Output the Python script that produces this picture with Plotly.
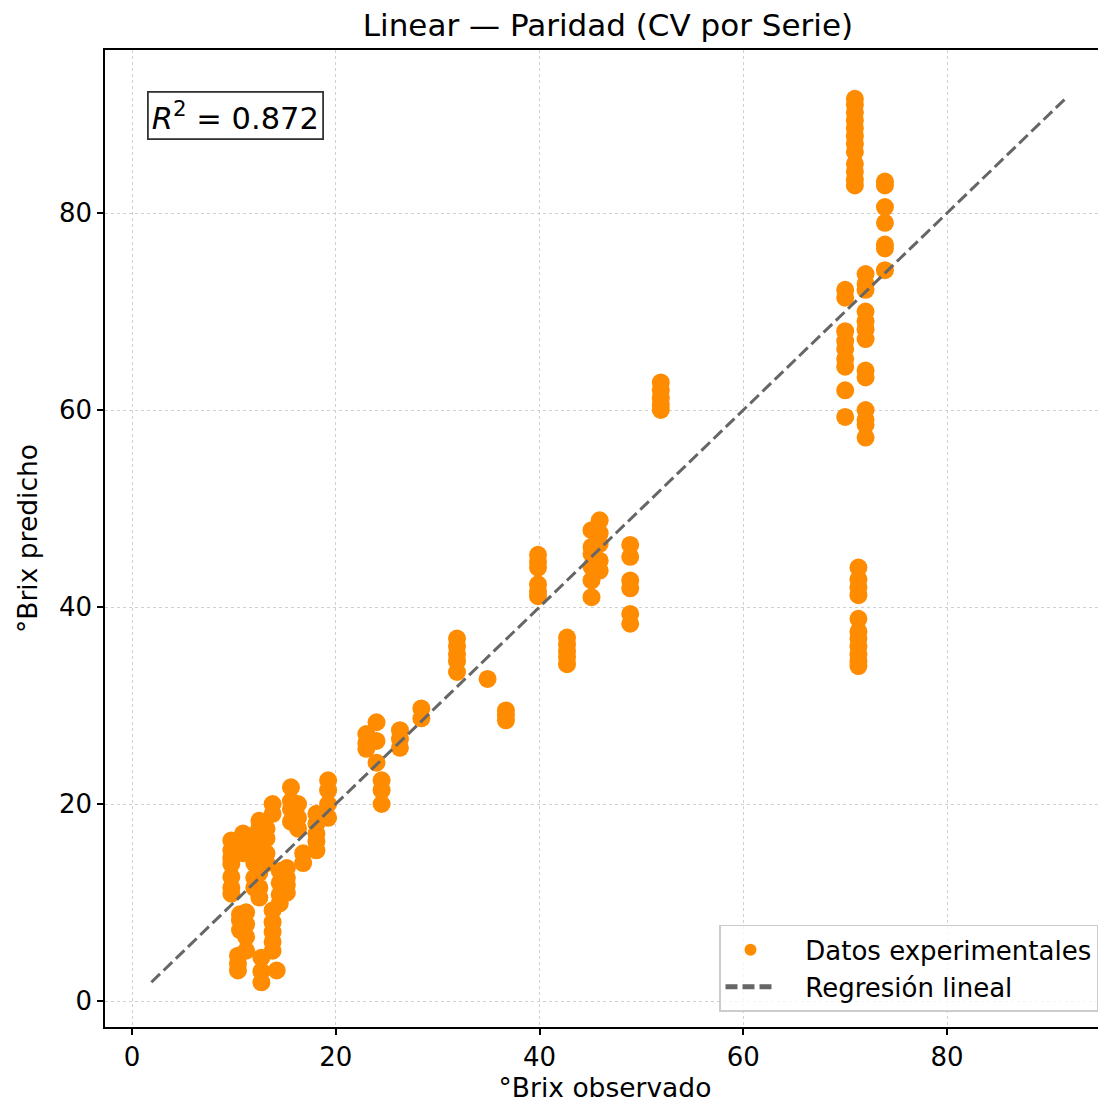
import plotly.graph_objects as go

# ---- data: observed °Brix (x) and predicted °Brix (stacked y values per observed level)
obs_levels = [70.95, 71.3, 73.9, 70.0, 72.0, 51.9, 48.9, 45.9, 45.1, 42.7, 39.85,
              36.7, 34.9, 31.9, 28.4, 26.3, 24.5, 24.0, 23.0, 19.25, 18.1, 16.8,
              16.3, 15.6, 15.2, 14.5, 14.2, 13.8, 13.2, 12.5, 12.7, 12.0, 11.2,
              10.9, 10.6, 10.4, 9.75]
pred_groups = [
    [91.6, 91.0, 90.2, 89.4, 88.6, 87.8, 87.0, 86.2, 85.0, 84.2, 83.4, 82.8],
    [44.0, 42.8, 42.0, 41.2, 38.8, 37.5, 36.8, 36.0, 35.2, 34.5, 34.0],
    [83.2, 82.8, 80.6, 79.0, 76.8, 76.4, 74.2],
    [72.2, 71.4, 68.0, 67.0, 66.2, 65.2, 64.4, 62.0, 59.3],
    [73.8, 72.8, 72.2, 70.0, 69.0, 68.2, 67.2, 64.0, 63.3, 60.0, 59.0, 58.5, 57.2],
    [62.8, 62.0, 61.2, 60.5, 60.0],
    [46.3, 45.1, 42.7, 41.9, 39.3, 38.3],
    [48.8, 47.5, 46.4, 44.7, 43.7],
    [47.8, 46.1, 45.4, 44.1, 42.7, 41.0],
    [36.9, 36.2, 35.5, 34.9, 34.2],
    [45.3, 44.6, 44.0, 42.3, 41.6, 41.1],
    [29.5, 29.0, 28.5],
    [32.7],
    [36.8, 36.0, 35.2, 34.5, 33.4],
    [29.7, 28.7],
    [27.5, 26.6, 25.7],
    [22.4, 21.4, 20.0],
    [28.3, 26.4, 24.2],
    [27.1, 26.2, 25.6],
    [22.4, 21.4, 20.0, 18.6],
    [19.0, 18.0, 17.0, 16.2, 15.3],
    [15.0, 14.0],
    [20.0, 18.6, 17.5],
    [21.7, 20.3, 19.5, 18.2],
    [13.5, 12.5, 11.8, 11.0],
    [13.2, 12.0, 10.8, 9.9],
    [3.1],
    [20.0, 19.0, 9.2, 8.0, 7.0, 6.0, 5.1],
    [17.5, 16.5, 15.0, 14.0],
    [18.3, 17.6, 16.0, 14.5, 13.0, 11.5, 10.5],
    [4.4, 3.0, 1.9],
    [16.6, 15.5, 14.0, 12.5, 11.5],
    [16.8, 9.0, 7.8, 6.5, 5.1],
    [17.0, 16.3, 15.0],
    [8.8, 8.2, 7.2],
    [4.6, 3.8, 3.1],
    [16.3, 15.3, 14.5, 13.9, 12.6, 11.5, 10.9],
]
series_names = ["Datos experimentales", "Regresión lineal"]
r2_value = 0.872
x_ticks = [0, 20, 40, 60, 80]
y_ticks = [0, 20, 40, 60, 80]

x_obs, y_pred = [], []
for xv, ys in zip(obs_levels, pred_groups):
    for yv in ys:
        x_obs.append(xv)
        y_pred.append(yv)

lo = min(min(x_obs), min(y_pred))
hi = max(max(x_obs), max(y_pred))

pad = "\u00a0\u00a0\u00a0"  # visual gap between legend symbol and label

fig = go.Figure()
fig.add_trace(go.Scatter(
    x=x_obs, y=y_pred, mode="markers", name=pad + series_names[0],
    marker=dict(size=18, color="#FF8C00", line=dict(width=0)),
))
fig.add_trace(go.Scatter(
    x=[lo, hi], y=[lo, hi], mode="lines", name=pad + series_names[1],
    line=dict(color="#666666", width=3, dash="12px,5px"),
))

font_family = "DejaVu Sans"
axis_common = dict(
    showline=True, linecolor="black", linewidth=1.5, mirror=True,
    ticks="outside", ticklen=6, tickwidth=1.5, tickcolor="black",
    showgrid=True, gridcolor="#d0d0d0", griddash="dot", gridwidth=1.3,
    zeroline=False, tickfont=dict(size=26, color="black", family=font_family),
    automargin=False,
)
fig.update_xaxes(range=[-2.65, 95.5], tickvals=x_ticks,
                 title=dict(text="°Brix observado", font=dict(size=26.5, color="black", family=font_family), standoff=11),
                 **axis_common)
fig.update_yaxes(range=[-2.64, 96.55], tickvals=y_ticks,
                 title=dict(text="°Brix predicho", font=dict(size=26.5, color="black", family=font_family), standoff=14),
                 **axis_common)

fig.add_annotation(
    xref="paper", yref="paper", x=0.042, y=0.9585, xanchor="left", yanchor="top",
    text=f"<i>R</i><sup>2</sup> = {r2_value:.3f}", showarrow=False,
    font=dict(size=30.5, color="black", family=font_family),
    bordercolor="#333333", borderwidth=1.8, borderpad=3, bgcolor="white",
)

# page has an 8px body margin; figure sized/margined so the plot area lands at 105..1105 x 50..1027
fig.update_layout(
    width=1098, height=1095,
    margin=dict(l=97, r=1, t=42, b=76),
    paper_bgcolor="white", plot_bgcolor="white",
    title=dict(text="Linear — Paridad (CV por Serie)", x=0.5464, xanchor="center",
               y=0.9845, yanchor="middle",
               font=dict(size=31, color="black", family=font_family)),
    legend=dict(x=0.993, y=0.0154, xanchor="right", yanchor="bottom",
                bgcolor="rgba(255,255,255,0.8)", bordercolor="#cccccc", borderwidth=1.5,
                font=dict(size=26, color="black", family=font_family),
                itemwidth=50, itemsizing="constant", tracegroupgap=4),
    showlegend=True,
)

fig.write_html("out.html")
